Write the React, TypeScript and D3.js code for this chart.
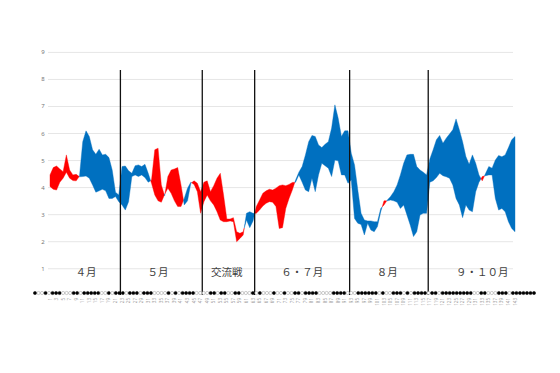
import { useEffect, useRef } from "react";
import * as d3 from "d3";

// 試合ごとの得点・失点（移動平均）
const scored = [
  4.04, 3.94, 3.91, 4.2, 4.35, 4.57, 4.35, 4.26, 4.25, 4.42,
  5.7, 6.1, 5.89, 5.4, 5.23, 5.42, 5.21, 5.23, 5.11, 4.65,
  3.83, 3.73, 4.78, 4.8, 4.62, 4.53, 4.81, 4.84, 4.78, 4.86,
  4.53, 4.16, 3.73, 3.51, 3.46, 3.75, 3.98, 3.79, 3.51, 3.3,
  3.3, 3.6, 3.98, 4.2, 4.12, 3.85, 3.05, 3.48, 3.73, 3.51,
  3.36, 3.11, 2.8, 2.74, 2.74, 2.77, 2.74, 2.0, 2.12, 2.25,
  3.05, 3.11, 3.05, 3.05, 3.17, 3.32, 3.42, 3.48, 3.46, 3.3,
  2.49, 2.52, 3.23, 3.6, 3.91, 4.28, 4.57, 4.78, 5.21, 5.7,
  5.93, 5.89, 5.58, 5.48, 5.6, 5.7, 6.2, 7.06, 6.57, 5.89,
  6.1, 6.1, 5.27, 4.84, 3.91, 3.05, 2.8, 2.77, 2.77, 2.74,
  2.74, 3.23, 3.36, 3.54, 3.67, 3.85, 4.1, 4.47, 4.9, 5.21,
  5.23, 5.23, 4.78, 4.65, 4.57, 4.47, 5.06, 5.4, 5.77, 5.93,
  5.64, 5.83, 5.98, 6.14, 6.54, 6.14, 5.7, 5.15, 4.86, 5.21,
  4.9, 4.47, 4.25, 4.52, 4.78, 4.72, 5.02, 5.19, 5.14, 5.21,
  5.48, 5.77, 5.89,
];
const allowed = [
  4.47, 4.74, 4.8, 4.69, 4.59, 5.21, 4.65, 4.47, 4.49, 4.4,
  4.41, 4.43, 4.35, 4.1, 3.83, 3.88, 3.94, 3.88, 3.6, 3.6,
  3.67, 3.48, 3.36, 3.17, 3.48, 4.41, 4.47, 4.41, 4.47, 4.37,
  4.2, 4.28, 5.4, 5.46, 4.1, 3.7, 4.41, 4.65, 4.69, 4.74,
  4.1, 3.36, 3.51, 4.16, 4.25, 4.16, 3.85, 4.2, 4.25, 3.85,
  4.07, 4.35, 4.53, 3.73, 2.84, 2.84, 2.89, 2.37, 2.31, 2.37,
  2.8, 2.52, 2.77, 3.3, 3.54, 3.79, 3.88, 3.94, 3.91, 3.98,
  4.07, 4.1, 4.07, 4.12, 4.19, 4.2, 4.47, 4.2, 3.91, 3.85,
  4.35, 3.85, 4.47, 4.9, 4.81, 4.72, 4.41, 5.02, 4.99, 4.47,
  4.47, 4.16, 4.28, 2.86, 2.68, 2.64, 2.25, 2.68, 2.43, 2.37,
  2.56, 3.11, 3.51, 3.51, 3.54, 3.51, 3.46, 3.23, 3.36, 2.99,
  2.62, 2.19, 2.37, 2.99, 3.05, 3.05, 4.2, 4.25, 4.37, 4.53,
  4.44, 4.4, 4.35, 4.1, 3.6, 3.36, 2.89, 3.36, 3.17, 3.11,
  3.85, 4.2, 4.41, 4.44, 4.47, 4.47, 3.6, 3.17, 3.23, 3.11,
  2.74, 2.49, 2.37,
];
// 勝敗（1 = ●, 0 = ○）
const results =
  "1001011100" + "0110111110" + "0101110111" + "0111000010" + "1011110000" +
  "1101100110" + "0010100010" + "0100110111" + "1000011110" + "0011111101" +
  "0011101011" + "1101101111" + "1111100110" + "0011101111" + "111";

const yTicks = [1, 2, 3, 4, 5, 6, 7, 8, 9];
const dividers = [22.5, 47.5, 63.5, 92.5, 116.5];
const periods = ["４月", "５月", "交流戦", "６・７月", "８月", "９・１０月"];
const periodCenters = [12, 34, 55, 78, 104, 133];

type Pt = { g: number; a: number; b: number };

export default function App() {
  const ref = useRef<SVGSVGElement>(null);

  useEffect(() => {
    const svg = d3.select(ref.current);
    svg.selectAll("*").remove();

    const n = scored.length;
    const x = d3.scaleLinear().domain([1, n]).range([50, 515]);
    const y = d3.scaleLinear().domain([0, 9]).range([295.8, 52.4]);

    // grid
    svg.append("g")
      .selectAll("line")
      .data(yTicks)
      .join("line")
      .attr("x1", 48)
      .attr("x2", 513)
      .attr("y1", d => y(d))
      .attr("y2", d => y(d))
      .attr("stroke", "#e6e6e6")
      .attr("stroke-width", 1);

    svg.append("g")
      .selectAll("text")
      .data(yTicks)
      .join("text")
      .attr("x", 43)
      .attr("y", d => y(d) + 2)
      .attr("text-anchor", "middle")
      .attr("font-size", 6)
      .attr("font-family", "Noto Sans, sans-serif")
      .attr("fill", "#777")
      .text(d => d);

    // bands, split where the two lines cross
    const pts: Pt[] = scored.map((a, i) => ({ g: i + 1, a, b: allowed[i] }));
    const runs: { pos: boolean; pts: Pt[] }[] = [];
    let cur = { pos: pts[0].a >= pts[0].b, pts: [pts[0]] };
    for (let i = 1; i < n; i++) {
      const p = pts[i - 1];
      const q = pts[i];
      const dp = p.a - p.b;
      const dq = q.a - q.b;
      const qpos = dq >= 0;
      if (qpos !== cur.pos) {
        const t = dp / (dp - dq);
        const c = { g: p.g + t, a: p.a + t * (q.a - p.a), b: p.b + t * (q.b - p.b) };
        cur.pts.push(c);
        runs.push(cur);
        cur = { pos: qpos, pts: [c, q] };
      } else {
        cur.pts.push(q);
      }
    }
    runs.push(cur);

    const area = d3.area<Pt>()
      .x(d => x(d.g))
      .y0(d => y(d.b))
      .y1(d => y(d.a));

    svg.append("g")
      .selectAll("path")
      .data(runs)
      .join("path")
      .attr("d", d => area(d.pts))
      .attr("fill", d => (d.pos ? "#0070c0" : "#ff0000"))
      .attr("stroke", d => (d.pos ? "#0070c0" : "#ff0000"))
      .attr("stroke-width", 0.4);

    // period dividers
    svg.append("g")
      .selectAll("line")
      .data(dividers)
      .join("line")
      .attr("x1", d => x(d))
      .attr("x2", d => x(d))
      .attr("y1", 70)
      .attr("y2", 295)
      .attr("stroke", "#111")
      .attr("stroke-width", 1.3);

    svg.append("g")
      .selectAll("text")
      .data(periods)
      .join("text")
      .attr("x", (d, i) => x(periodCenters[i]))
      .attr("y", 276)
      .attr("text-anchor", "middle")
      .attr("font-size", 10.5)
      .attr("font-family", "Noto Sans CJK JP, sans-serif")
      .attr("fill", "#404040")
      .text(d => d);

    // win / loss marks
    const res = results.split("").map(Number);
    const xm = d3.scaleLinear().domain([0, res.length - 1]).range([35, 534]);
    svg.append("g")
      .selectAll("circle")
      .data(res)
      .join("circle")
      .attr("cx", (d, i) => xm(i))
      .attr("cy", 293)
      .attr("r", 1.6)
      .attr("fill", d => (d ? "#000" : "#fff"))
      .attr("stroke", d => (d ? "#000" : "#999"))
      .attr("stroke-width", 0.5);

    // game numbers
    const labels = d3.range(1, n + 1, 2);
    svg.append("g")
      .selectAll("text")
      .data(labels)
      .join("text")
      .attr("transform", d => `translate(${x(d) + 1.5},298) rotate(-90)`)
      .attr("text-anchor", "end")
      .attr("font-size", 4.5)
      .attr("font-family", "Noto Sans, sans-serif")
      .attr("fill", "#999")
      .text(d => d);
  }, []);

  return (
    <svg
      ref={ref}
      width={560}
      height={373}
      style={{ position: "absolute", left: 0, top: 0, background: "#fff" }}
    />
  );
}
